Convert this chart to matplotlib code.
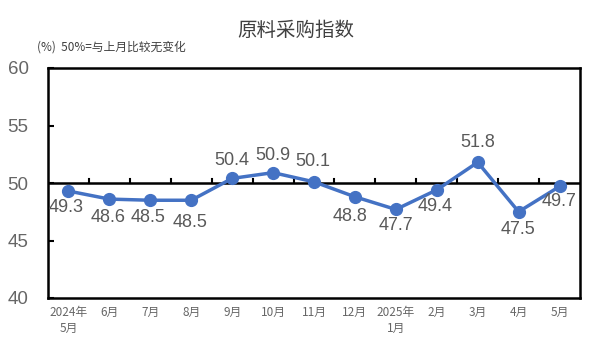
import matplotlib.pyplot as plt

plt.rcParams['font.family'] = ['Noto Sans CJK SC', 'DejaVu Sans']

# 数据
months = ['2024年\n5月', '6月', '7月', '8月', '9月', '10月', '11月', '12月',
          '2025年\n1月', '2月', '3月', '4月', '5月']
values = [49.3, 48.6, 48.5, 48.5, 50.4, 50.9, 50.1, 48.8, 47.7, 49.4, 51.8, 47.5, 49.7]
yticks = [40, 45, 50, 55, 60]

# 标签偏移 (像素)
offsets = [(-2, -16), (-1, -18), (-2, -17), (-1, -22), (0, 18), (0, 17), (-1, 20),
           (-5, -20), (0, -16), (-2, -17), (0, 20), (-1, -18), (0, -15)]

fig = plt.figure(figsize=(5.91, 3.54), dpi=100)
ax = fig.add_axes([48 / 591, 1 - 298 / 354, 532 / 591, 230 / 354])

x = range(len(values))
ax.plot(x, values, color='#4472C4', lw=2.5, marker='o', markersize=8.5, zorder=3)

for i, v in enumerate(values):
    dx, dy = offsets[i]
    ax.annotate(f'{v:.1f}', (i, v), xytext=(dx, dy), textcoords='offset pixels',
                ha='center', va='center', fontsize=13, color='#595959',
                family='Liberation Sans')

ax.set_xlim(-0.5, len(values) - 0.5)
ax.set_ylim(40, 60)
ax.axhline(50, color='black', lw=1.8, zorder=2)
# 分隔刻度
for b in range(len(values) - 1):
    ax.plot([b + 0.5, b + 0.5], [50, 50.35], color='black', lw=1.5, zorder=2)

ax.set_yticks(yticks)
ax.set_yticklabels([str(t) for t in yticks], fontsize=13.5, color='#666666',
                   family='Liberation Sans')
ax.tick_params(axis='y', direction='in', length=4, width=1.5, pad=14)
ax.set_xticks(list(x))
ax.set_xticklabels(months, fontsize=8.5, color='#666666', linespacing=1.25)
ax.tick_params(axis='x', length=0, pad=6)

for s in ax.spines.values():
    s.set_linewidth(1.8)
    s.set_color('black')

fig.text(0.5, 1 - 30 / 354, '原料采购指数', ha='center', va='center',
         fontsize=14, color='#404040')
fig.text(37 / 591, 1 - 47 / 354, '(%)  50%=与上月比较无变化', ha='left', va='center',
         fontsize=8.5, color='#404040')

fig.savefig('out.png', dpi=100)
